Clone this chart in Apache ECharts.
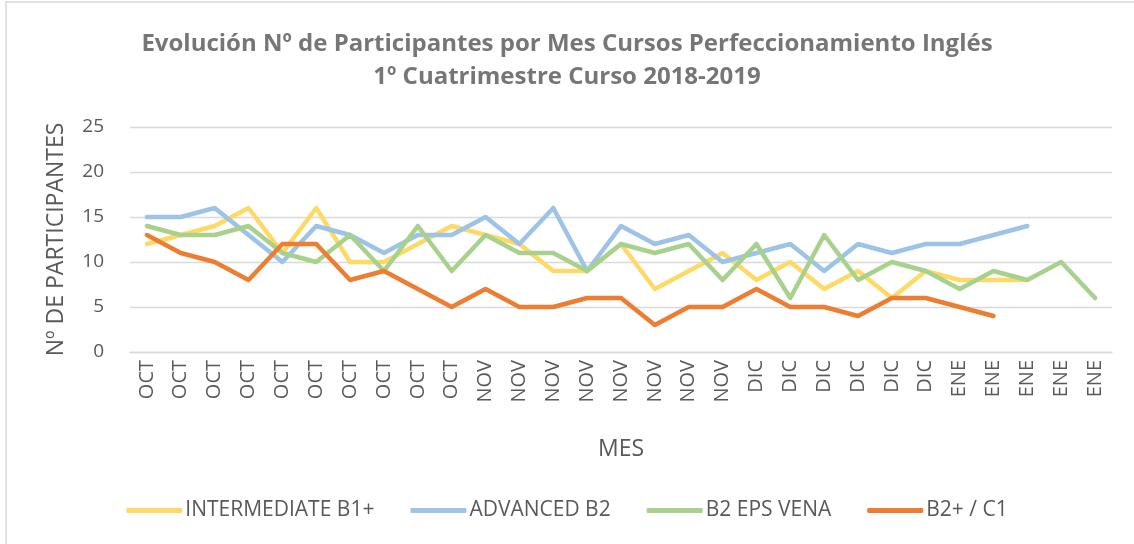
<!DOCTYPE html>
<html>
<head>
<meta charset="utf-8">
<script src="https://cdn.jsdelivr.net/npm/echarts@6/dist/echarts.min.js"></script>
<style>
html,body{margin:0;padding:0;background:#fff;}
#chart{width:1134px;height:544px;}
</style>
</head>
<body>
<div id="chart"></div>
<script>
var meses = ['OCT','OCT','OCT','OCT','OCT','OCT','OCT','OCT','OCT','OCT',
	'NOV','NOV','NOV','NOV','NOV','NOV','NOV','NOV',
	'DIC','DIC','DIC','DIC','DIC','DIC',
	'ENE','ENE','ENE','ENE','ENE'];
var intermediateB1 = [12,13,14,16,11,16,10,10,12,14,13,12,9,9,12,7,9,11,8,10,7,9,6,9,8,8,8];
var advancedB2 = [15,15,16,13,10,14,13,11,13,13,15,12,16,9,14,12,13,10,11,12,9,12,11,12,12,13,14];
var b2EpsVena = [14,13,13,14,11,10,13,9,14,9,13,11,11,9,12,11,12,8,12,6,13,8,10,9,7,9,8,10,6];
var b2C1 = [13,11,10,8,12,12,8,9,7,5,7,5,5,6,6,3,5,5,7,5,5,4,6,6,5,4];
var yTicks = {min:0, max:25, interval:5};

var nombres = ['INTERMEDIATE B1+','ADVANCED B2','B2 EPS VENA','B2+ / C1'];
var colores = ['#FFD966','#9DC3E6','#A9D18E','#ED7D31'];
var datos = [intermediateB1, advancedB2, b2EpsVena, b2C1];
var fuente = 'Open Sans';

var myChart = echarts.init(document.getElementById('chart'));
var option = {
	backgroundColor:'#fff',
	title:{
		text:'Evolución Nº de Participantes por Mes Cursos Perfeccionamiento Inglés\n1º Cuatrimestre Curso 2018-2019',
		left:'center',
		top:23,
		textStyle:{fontFamily:fuente, fontSize:24, fontWeight:'bold', color:'#767676', lineHeight:33}
	},
	graphic:[{
		type:'rect',
		shape:{x:6, y:2, width:1200, height:600},
		style:{fill:'none', stroke:'#d9d9d9', lineWidth:1.5},
		silent:true
	}],
	legend:{
		top:495,
		left:'center',
		icon:'roundRect',
		itemWidth:56,
		itemHeight:5,
		itemGap:36,
		textStyle:{fontFamily:fuente, fontSize:21, color:'#595959', padding:[0,0,0,-2]},
		data:nombres
	},
	grid:{left:130, right:22, top:127, bottom:192},
	xAxis:{
		type:'category',
		data:meses,
		boundaryGap:true,
		name:'MES',
		nameLocation:'middle',
		nameGap:86,
		nameTextStyle:{fontFamily:fuente, fontSize:23, color:'#595959'},
		axisLine:{lineStyle:{color:'#d9d9d9', width:1.3}},
		axisTick:{show:false},
		axisLabel:{rotate:90, interval:0, fontFamily:fuente, fontSize:20, color:'#595959', margin:8}
	},
	yAxis:{
		type:'value',
		min:yTicks.min,
		max:yTicks.max,
		interval:yTicks.interval,
		name:'Nº DE PARTICIPANTES',
		nameLocation:'middle',
		nameGap:62,
		nameTextStyle:{fontFamily:fuente, fontSize:23, color:'#595959'},
		axisLine:{show:false},
		axisTick:{show:false},
		splitLine:{lineStyle:{color:'#d9d9d9', width:1.3}},
		axisLabel:{fontFamily:fuente, fontSize:19, color:'#595959', margin:26}
	},
	series:nombres.map(function(nombre, idx){
		return {
			name:nombre,
			type:'line',
			data:datos[idx],
			showSymbol:false,
			symbol:'none',
			color:colores[idx],
			lineStyle:{width:4.5, color:colores[idx], cap:'round', join:'round'},
			animation:false
		};
	})
};
myChart.setOption(option);
</script>
</body>
</html>
